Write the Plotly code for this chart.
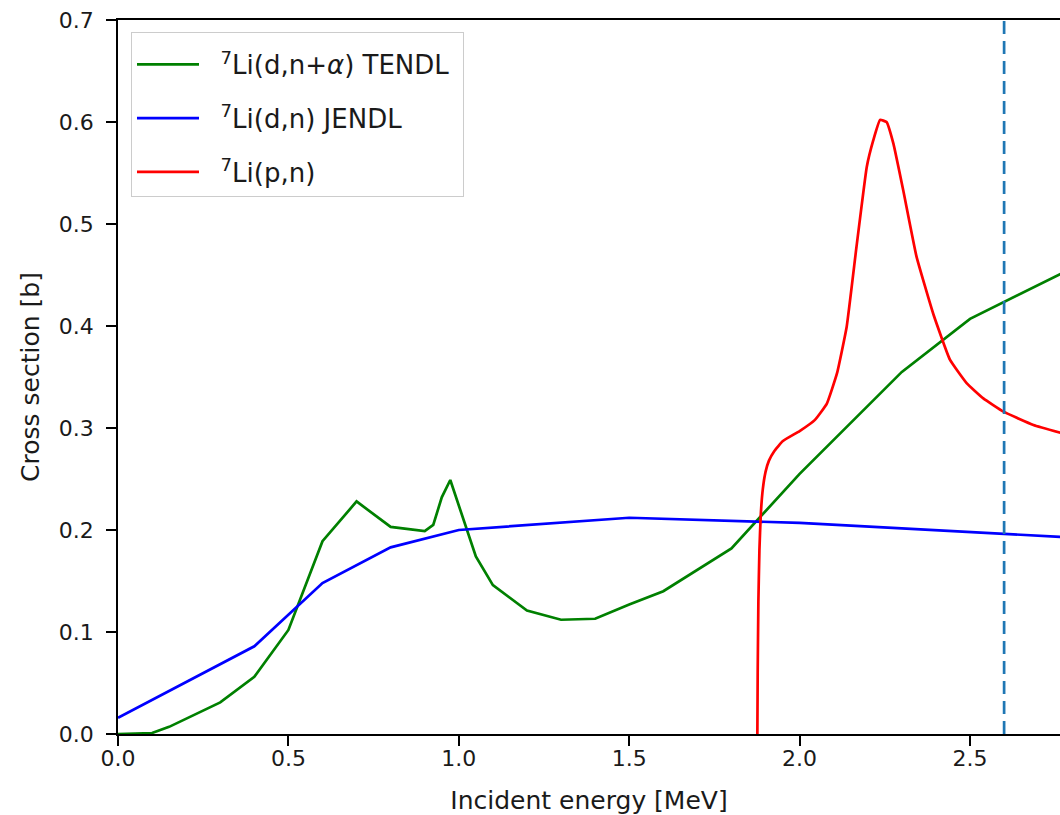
import plotly.graph_objects as go

# 7Li(d,n+alpha) TENDL
tendl_e = [0.0, 0.1, 0.15, 0.3, 0.4, 0.5, 0.6, 0.7, 0.8, 0.9, 0.925, 0.95, 0.975,
           1.05, 1.1, 1.2, 1.3, 1.4, 1.5, 1.6, 1.8, 2.0, 2.3, 2.5, 3.0]
tendl_xs = [0.0, 0.001, 0.007, 0.031, 0.056, 0.102, 0.189, 0.228, 0.203, 0.199, 0.205, 0.232, 0.249,
            0.174, 0.146, 0.121, 0.112, 0.113, 0.127, 0.140, 0.182, 0.255, 0.355, 0.407, 0.490]

# 7Li(d,n) JENDL
jendl_e = [0.0, 0.4, 0.6, 0.8, 1.0, 1.5, 2.0, 3.0]
jendl_xs = [0.016, 0.086, 0.148, 0.183, 0.200, 0.212, 0.207, 0.189]

# 7Li(p,n)
pn_e = [1.876, 1.877, 1.879, 1.882, 1.886, 1.892, 1.900, 1.910, 1.925, 1.950, 2.000, 2.045,
        2.080, 2.110, 2.138, 2.167, 2.197, 2.216, 2.236, 2.255, 2.275, 2.304, 2.343, 2.392,
        2.441, 2.490, 2.539, 2.598, 2.686, 2.770]
pn_xs = [0.0, 0.06, 0.13, 0.18, 0.215, 0.240, 0.257, 0.268, 0.277, 0.287, 0.297, 0.308,
         0.324, 0.354, 0.399, 0.478, 0.556, 0.582, 0.602, 0.600, 0.579, 0.533, 0.468, 0.412,
         0.367, 0.344, 0.329, 0.316, 0.303, 0.295]

vline_e = 2.6

x_ticks = [0.0, 0.5, 1.0, 1.5, 2.0, 2.5]
y_ticks = [0.0, 0.1, 0.2, 0.3, 0.4, 0.5, 0.6, 0.7]

font = "DejaVu Sans"
txt = "#1a1a1a"
lw = 2.7
pad = "\u00a0\u00a0"

fig = go.Figure()
fig.add_trace(go.Scatter(x=tendl_e, y=tendl_xs, mode="lines", line=dict(color="green", width=lw),
                         name=pad + "<sup>7</sup>Li(d,n+<i>α</i>) TENDL\u00a0", legendgroup="a"))
fig.add_trace(go.Scatter(x=jendl_e, y=jendl_xs, mode="lines", line=dict(color="blue", width=lw),
                         name=pad + "<sup>7</sup>Li(d,n) JENDL", legendgroup="b"))
fig.add_trace(go.Scatter(x=pn_e, y=pn_xs, mode="lines",
                         line=dict(color="red", width=lw, shape="spline", smoothing=0.35),
                         name=pad + "<sup>7</sup>Li(p,n)", legendgroup="c"))

fig.add_vline(x=vline_e, line=dict(color="#1f77b4", width=lw, dash="13px,7px"))

fig.update_layout(
    width=1060, height=815,
    margin=dict(l=118, r=0, t=20, b=81),
    paper_bgcolor="white", plot_bgcolor="white",
    font=dict(family=font, color=txt, size=22),
    showlegend=True,
    legend=dict(x=0.0138, y=0.983, xanchor="left", yanchor="top",
                bgcolor="rgba(255,255,255,0.8)", bordercolor="#cccccc", borderwidth=1,
                font=dict(family=font, size=26, color=txt),
                title=dict(text="\u00a0", font=dict(size=6)),
                tracegroupgap=17, itemwidth=62),
    xaxis=dict(range=[0, 2.764], showgrid=False, zeroline=False, showline=True, linecolor="black",
               linewidth=1.5, mirror=True, ticks="outside", ticklen=10, tickcolor="black",
               tickwidth=1.5, tickvals=x_ticks, ticktext=[f"{v:.1f}" for v in x_ticks],
               ticklabelstandoff=-6,
               tickfont=dict(size=22, family=font, color=txt),
               title=dict(text="Incident energy [MeV]", font=dict(size=25, family=font, color=txt), standoff=21)),
    yaxis=dict(range=[0, 0.7], showgrid=False, zeroline=False, showline=True, linecolor="black",
               linewidth=1.5, mirror=False, ticks="outside", ticklen=10, tickcolor="black",
               tickwidth=1.5, tickvals=y_ticks, ticktext=[f"{v:.1f}" for v in y_ticks],
               ticklabelstandoff=8,
               tickfont=dict(size=22, family=font, color=txt),
               title=dict(text="Cross section [b]", font=dict(size=25, family=font, color=txt), standoff=12)),
)

fig.write_html("out.html", config={"displayModeBar": False},
               post_script="document.body.style.margin='0';")
